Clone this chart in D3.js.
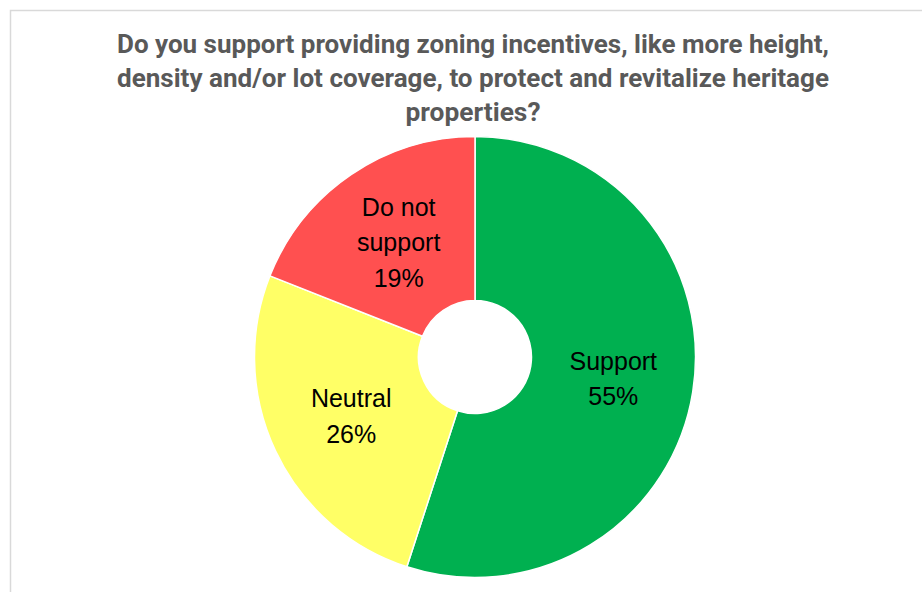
<!DOCTYPE html>
<html>
<head>
<meta charset="utf-8">
<script src="https://cdn.jsdelivr.net/npm/d3@7"></script>
<style>
  html, body { margin: 0; padding: 0; background: #ffffff; }
  svg { display: block; }
</style>
</head>
<body>
<svg id="chart" width="922" height="592"></svg>
<script>
// Survey responses
const categories = ["Support", "Neutral", "Do not support"];
const shares = [55, 26, 19];
const labelLines = [["Support"], ["Neutral"], ["Do not", "support"]];
const sliceColors = ["#00B050", "#FFFF66", "#FF5050"];
const titleLines = [
  "Do you support providing zoning incentives, like more height,",
  "density and/or lot coverage, to protect and revitalize heritage",
  "properties?"
];

const svg = d3.select("#chart");

// chart area frame
svg.append("rect")
  .attr("x", 10.5).attr("y", 10.5)
  .attr("width", 1200).attr("height", 1200)
  .attr("fill", "#ffffff")
  .attr("stroke", "#d9d9d9")
  .attr("stroke-width", 1.5);

// title
const titleWidths = [712, 712, 135];
const title = svg.append("g")
  .attr("font-family", "Roboto, 'Open Sans', sans-serif")
  .attr("font-weight", 700)
  .attr("font-size", 25)
  .attr("fill", "#595959")
  .attr("text-anchor", "middle");
titleLines.forEach((line, i) => {
  title.append("text")
    .attr("x", 473)
    .attr("y", 53 + i * 34)
    .attr("textLength", titleWidths[i])
    .attr("lengthAdjust", "spacingAndGlyphs")
    .text(line);
});

// doughnut
const cx = 475, cy = 357;
const outerR = 220.5, innerR = 56.5;

const pie = d3.pie().sort(null).value(d => d.value);
const data = categories.map((c, i) => ({ name: c, value: shares[i], color: sliceColors[i], lines: labelLines[i] }));
const arcs = pie(data);

const arc = d3.arc().innerRadius(innerR).outerRadius(outerR);

const g = svg.append("g").attr("transform", `translate(${cx},${cy})`);

g.selectAll("path.slice")
  .data(arcs)
  .join("path")
  .attr("class", "slice")
  .attr("d", arc)
  .attr("fill", d => d.data.color)
  .attr("stroke", "#ffffff")
  .attr("stroke-width", 1.5)
  .attr("stroke-linejoin", "round");

// data labels: category name and percentage at slice centroid
const lineH = 35.5;
g.selectAll("text.label")
  .data(arcs)
  .join("text")
  .attr("class", "label")
  .attr("font-family", "'Liberation Sans', Arial, sans-serif")
  .attr("font-size", 25)
  .attr("fill", "#000000")
  .attr("text-anchor", "middle")
  .each(function (d) {
    const [x, y] = arc.centroid(d);
    const lines = d.data.lines.concat([d3.format(".0f")(d.data.value) + "%"]);
    const top = y - (lines.length - 1) * lineH / 2 + 9;
    const t = d3.select(this);
    lines.forEach((ln, i) => {
      t.append("tspan")
        .attr("x", x + 1.5)
        .attr("y", top + i * lineH)
        .text(ln);
    });
  });
</script>
</body>
</html>
